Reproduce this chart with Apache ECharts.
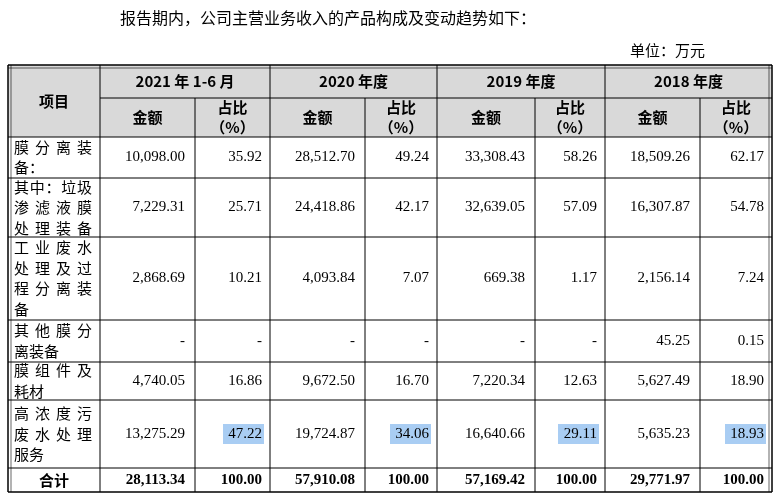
<!DOCTYPE html>
<html><head><meta charset="utf-8">
<script src="https://cdn.jsdelivr.net/npm/echarts@6/dist/echarts.min.js"></script>
<style>html,body{margin:0;background:#fff}</style>
</head><body>
<div id="main" style="width:779px;height:500px"></div>
<script>
// 产品构成表
const periods = ['2021 年 1-6 月', '2020 年度', '2019 年度', '2018 年度'];
const items = [['膜分离装', '备：'], ['其中：垃圾', '渗滤液膜', '处理装备'], ['工业废水', '处理及过', '程分离装', '备'],
  ['其他膜分', '离装备'], ['膜组件及', '耗材'], ['高浓度污', '废水处理', '服务'], ['合计']];
const amt2021 = [10098.00, 7229.31, 2868.69, null, 4740.05, 13275.29, 28113.34];
const pct2021 = [35.92, 25.71, 10.21, null, 16.86, 47.22, 100.00];
const amt2020 = [28512.70, 24418.86, 4093.84, null, 9672.50, 19724.87, 57910.08];
const pct2020 = [49.24, 42.17, 7.07, null, 16.70, 34.06, 100.00];
const amt2019 = [33308.43, 32639.05, 669.38, null, 7220.34, 16640.66, 57169.42];
const pct2019 = [58.26, 57.09, 1.17, null, 12.63, 29.11, 100.00];
const amt2018 = [18509.26, 16307.87, 2156.14, 45.25, 5627.49, 5635.23, 29771.97];
const pct2018 = [62.17, 54.78, 7.24, 0.15, 18.90, 18.93, 100.00];
const highlightRow = 5;

const amts = [amt2021, amt2020, amt2019, amt2018];
const pcts = [pct2021, pct2020, pct2019, pct2018];
const colX = [8, 100, 195, 270, 365, 437, 535, 605, 700, 772];
const rowY = [65, 98, 137, 178, 237, 320, 362, 400, 468, 492];
const CJK = '"Noto Sans CJK SC", sans-serif';
const NUM = '"Liberation Serif", serif';

const fmt = v => v == null ? '-' : v.toLocaleString('en-US', {minimumFractionDigits: 2, maximumFractionDigits: 2});
const g = [];
const line = (x1, y1, x2, y2, w) => g.push({type: 'line', shape: {x1, y1, x2, y2}, style: {stroke: '#000', lineWidth: w || 1}});
const text = (x, y, t, o) => g.push({type: 'text', x, y, style: Object.assign({text: t, fill: '#000', font: '15px ' + CJK, align: 'center', verticalAlign: 'middle'}, o || {})});

g.push({type: 'text', x: 120, y: 18, style: {text: '报告期内，公司主营业务收入的产品构成及变动趋势如下：', font: '16px ' + CJK, fill: '#000', verticalAlign: 'middle'}});
text(705, 50, '单位：万元', {align: 'right'});

// header background
g.push({type: 'rect', shape: {x: colX[0], y: rowY[0], width: colX[9] - colX[0], height: rowY[2] - rowY[0]}, style: {fill: '#d9d9d9'}});

// header text
text((colX[0] + colX[1]) / 2, (rowY[0] + rowY[2]) / 2, '项目', {font: 'bold 15px ' + CJK});
periods.forEach((p, i) => {
  const a = colX[1 + 2 * i], m = colX[2 + 2 * i], b = colX[3 + 2 * i];
  text((a + b) / 2, (rowY[0] + rowY[1]) / 2, p, {font: 'bold 15px ' + CJK});
  text((a + m) / 2, (rowY[1] + rowY[2]) / 2, '金额', {font: 'bold 15px ' + CJK});
  text((m + b) / 2, (rowY[1] + rowY[2]) / 2, '占比\n（%）', {font: 'bold 15px ' + CJK, lineHeight: 20});
});

// body
items.forEach((lines, r) => {
  const y0 = rowY[r + 2], y1 = rowY[r + 3];
  const total = r === items.length - 1;
  const lh = 20.5;
  const top = (y0 + y1) / 2 - (lines.length - 1) * lh / 2;
  if (total) {
    text((colX[0] + colX[1]) / 2, (y0 + y1) / 2, lines[0], {font: 'bold 15px ' + CJK});
  } else {
    lines.forEach((s, k) => {
      const chars = [...s];
      const step = chars.length >= 4 ? (92 - 14 - 15) / (chars.length - 1) : 15;
      chars.forEach((c, j) => text(14 + j * step, top + k * lh, c, {align: 'left'}));
    });
  }
  const font = (total ? 'bold ' : '') + '15px ' + NUM;
  for (let i = 0; i < 4; i++) {
    const mid = (y0 + y1) / 2;
    const ar = colX[2 + 2 * i] - 10, pr = colX[3 + 2 * i] - 8;
    text(ar, mid, fmt(amts[i][r]), {align: 'right', font});
    if (r === highlightRow) {
      g.push({type: 'rect', shape: {x: pr - 39, y: mid - 10, width: 41, height: 20}, style: {fill: '#a9cdf3'}});
    }
    text(pr, mid, fmt(pcts[i][r]), {align: 'right', font});
  }
});

// grid lines
rowY.forEach((y, k) => {
  if (k === 1) line(colX[1], y, colX[9], y);
  else line(colX[0], y, colX[9], y, (k === 0 || k === rowY.length - 1) ? 1.5 : 1);
});
line(colX[0], rowY[0] + 3, colX[9], rowY[0] + 3, 0.6);
colX.forEach((x, k) => {
  const sub = k % 2 === 0 && k > 0 && k < 9;
  line(x, sub ? rowY[1] : rowY[0], x, rowY[rowY.length - 1], (k === 0 || k === 9) ? 1.5 : 1);
});
line(colX[0] + 3, rowY[0], colX[0] + 3, rowY[rowY.length - 1], 0.6);
line(colX[9] - 3, rowY[0], colX[9] - 3, rowY[rowY.length - 1], 0.6);

const chart = echarts.init(document.getElementById('main'));
chart.setOption({animation: false, graphic: g});
</script>
</body></html>
